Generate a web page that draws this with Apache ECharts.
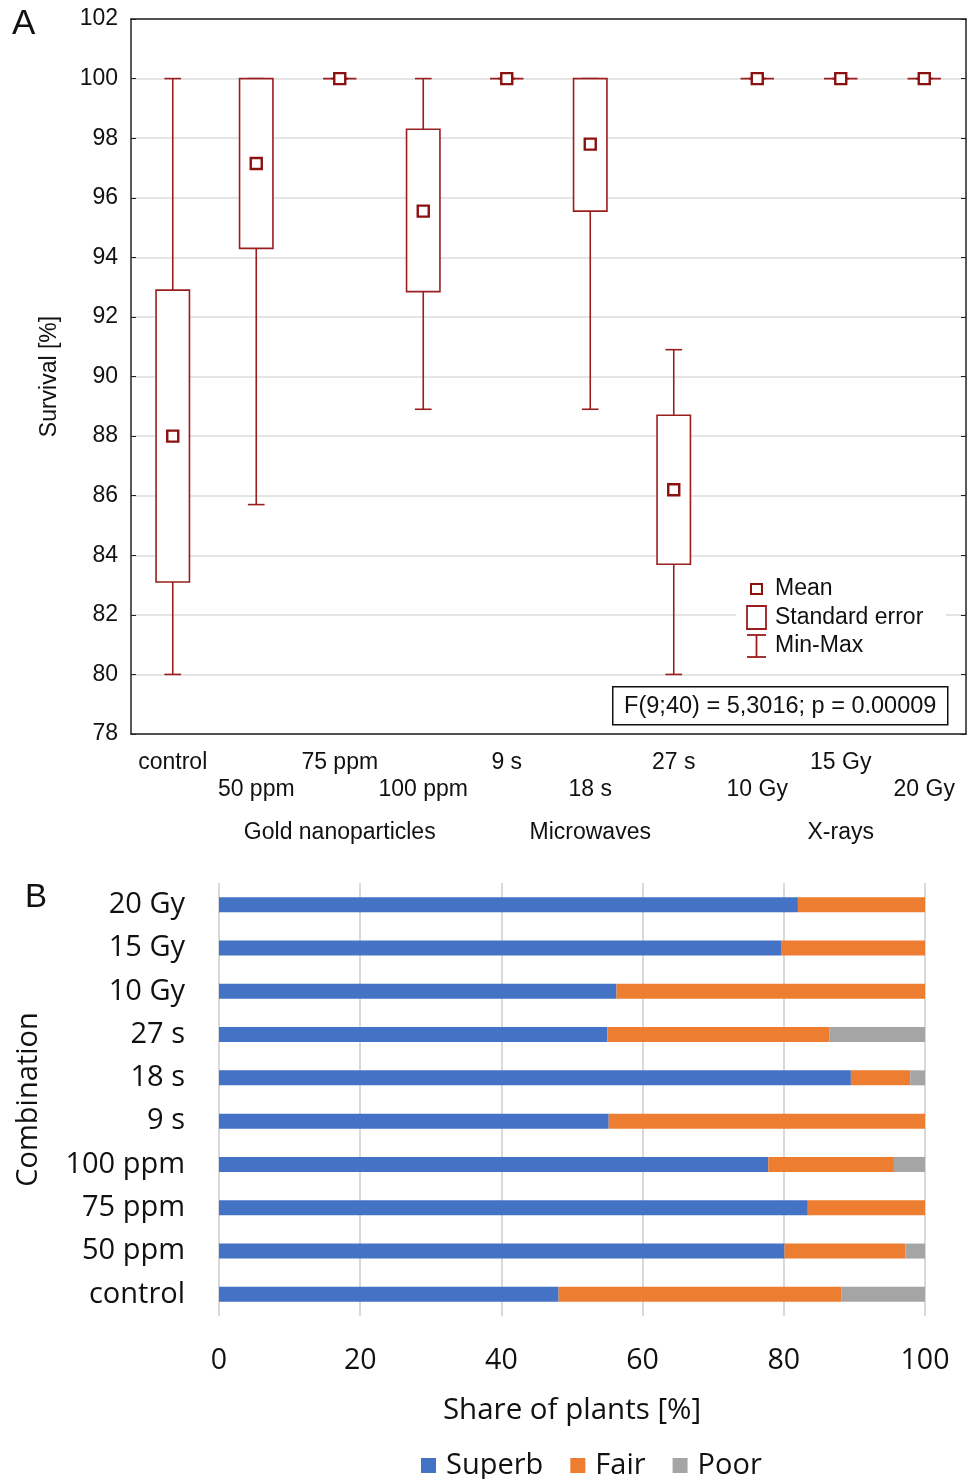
<!DOCTYPE html>
<html>
<head>
<meta charset="utf-8">
<script src="https://cdn.jsdelivr.net/npm/echarts@6/dist/echarts.min.js"></script>
<style>
html, body { margin: 0; padding: 0; background: #fff; }
#container { width: 972px; height: 1479px; }
</style>
</head>
<body>
<div id="container"></div>
<script>
// panel A - survival
var categories = ['control', '50 ppm', '75 ppm', '100 ppm', '9 s', '18 s', '27 s', '10 Gy', '15 Gy', '20 Gy'];
var groupLabels = ['', '', 'Gold nanoparticles', '', '', 'Microwaves', '', '', 'X-rays', ''];
var survivalMin = [80, 85.7, 100, 88.9, 100, 88.9, 80, 100, 100, 100];
var survivalMax = [100, 100, 100, 100, 100, 100, 90.9, 100, 100, 100];
var seLow = [83.1, 94.3, 100, 92.85, 100, 95.55, 83.7, 100, 100, 100];
var seHigh = [92.9, 100, 100, 98.3, 100, 100, 88.7, 100, 100, 100];
var survivalMean = [88.0, 97.15, 100, 95.55, 100, 97.8, 86.2, 100, 100, 100];

// panel B - share of plants
var combinations = ['control', '50 ppm', '75 ppm', '100 ppm', '9 s', '18 s', '27 s', '10 Gy', '15 Gy', '20 Gy'];
var superb = [48.1, 80.1, 83.4, 77.8, 55.2, 89.5, 55.0, 56.3, 79.7, 82.0];
var fair = [40.1, 17.1, 16.6, 17.8, 44.8, 8.4, 31.5, 43.7, 20.3, 18.0];
var poor = [11.8, 2.8, 0, 4.4, 0, 2.1, 13.5, 0, 0, 0];

var RED = '#9a1e1e';
var ARIAL = "'Liberation Sans', Arial, sans-serif";
var CALIBRI = "'Open Sans', Lato, sans-serif";

function boxData() {
	var data = [];
	categories.forEach(function (c, i) {
		data.push([i, survivalMin[i], seLow[i], survivalMean[i], seHigh[i], survivalMax[i]]);
	});
	return data;
}

function renderBox(params, api) {
	var x = api.value(0);
	var pMin = api.coord([x, api.value(1)]);
	var pLo = api.coord([x, api.value(2)]);
	var pMean = api.coord([x, api.value(3)]);
	var pHi = api.coord([x, api.value(4)]);
	var pMax = api.coord([x, api.value(5)]);
	var bw = api.size([1, 0])[0] * 0.4;
	var cap = bw / 2;
	var line = { stroke: RED, lineWidth: 1.6 };
	var cx = pMean[0];
	var children = [];
	if (pMax[1] < pHi[1]) {
		children.push({ type: 'line', shape: { x1: cx, y1: pMax[1], x2: cx, y2: pHi[1] }, style: line });
	}
	children.push({ type: 'line', shape: { x1: cx - cap / 2, y1: pMax[1], x2: cx + cap / 2, y2: pMax[1] }, style: line });
	if (pMin[1] > pLo[1]) {
		children.push({ type: 'line', shape: { x1: cx, y1: pLo[1], x2: cx, y2: pMin[1] }, style: line });
	}
	children.push({ type: 'line', shape: { x1: cx - cap / 2, y1: pMin[1], x2: cx + cap / 2, y2: pMin[1] }, style: line });
	if (pLo[1] - pHi[1] > 0.5) {
		children.push({ type: 'rect', shape: { x: cx - bw / 2, y: pHi[1], width: bw, height: pLo[1] - pHi[1] }, style: { fill: '#fff', stroke: RED, lineWidth: 1.6 } });
	} else {
		children.push({ type: 'line', shape: { x1: cx - bw / 2, y1: pHi[1], x2: cx + bw / 2, y2: pHi[1] }, style: line });
	}
	children.push({ type: 'rect', shape: { x: cx - 5.5, y: pMean[1] - 5.5, width: 11, height: 11 }, style: { fill: '#fff', stroke: '#8b1010', lineWidth: 2.4 } });
	return { type: 'group', children: children };
}

var dom = document.getElementById('container');
var chart = echarts.init(dom, null, { renderer: 'canvas' });

var option = {
	animation: false,
	backgroundColor: '#fff',
	grid: [
		{ left: 131, top: 19, width: 835, height: 715 },
		{ left: 219, top: 883, width: 706, height: 433 }
	],
	xAxis: [
		{
			type: 'category', gridIndex: 0, position: 'bottom', data: categories,
			axisLine: { lineStyle: { color: '#222', width: 1.5 } },
			axisTick: { inside: true, length: 5, alignWithLabel: true, lineStyle: { color: '#222' } },
			axisLabel: {
				interval: 0, margin: 15, fontSize: 23, lineHeight: 27, color: '#111', fontFamily: ARIAL,
				formatter: function (v, i) { return i % 2 ? '\n' + v : v; }
			}
		},
		{
			type: 'category', gridIndex: 0, position: 'top', data: categories,
			axisLine: { lineStyle: { color: '#222', width: 1.5 } },
			axisTick: { inside: true, length: 5, alignWithLabel: true, lineStyle: { color: '#222' } },
			axisLabel: { show: false }
		},
		{
			type: 'category', gridIndex: 0, position: 'bottom', offset: 79, data: categories,
			axisLine: { show: false }, axisTick: { show: false },
			axisLabel: {
				interval: 0, fontSize: 23, color: '#111', fontFamily: ARIAL,
				formatter: function (v, i) { return groupLabels[i]; }
			}
		},
		{
			type: 'value', gridIndex: 1, min: 0, max: 100, interval: 20,
			axisLine: { show: false }, axisTick: { show: false },
			splitLine: { lineStyle: { color: '#d9d9d9', width: 2 } },
			axisLabel: { margin: 30, fontSize: 28.5, color: '#111', fontFamily: CALIBRI },
			name: 'Share of plants [%]', nameLocation: 'middle', nameGap: 80,
			nameTextStyle: { fontSize: 29.5, color: '#111', fontFamily: CALIBRI }
		}
	],
	yAxis: [
		{
			type: 'value', gridIndex: 0, position: 'left', min: 78, max: 102, interval: 2,
			axisLine: { show: true, lineStyle: { color: '#222', width: 1.5 } },
			axisTick: { show: true, inside: true, length: 5, lineStyle: { color: '#222' } },
			splitLine: { lineStyle: { color: '#dcdcdc', width: 1.5 } },
			axisLabel: { margin: 13, fontSize: 23, color: '#111', fontFamily: ARIAL },
			name: 'Survival [%]', nameLocation: 'middle', nameGap: 70, nameRotate: 90,
			nameTextStyle: { fontSize: 23, color: '#111', fontFamily: ARIAL }
		},
		{
			type: 'value', gridIndex: 0, position: 'right', min: 78, max: 102, interval: 2,
			axisLine: { show: true, lineStyle: { color: '#222', width: 1.5 } },
			axisTick: { show: true, inside: true, length: 5, lineStyle: { color: '#222' } },
			splitLine: { show: false },
			axisLabel: { show: false }
		},
		{
			type: 'category', gridIndex: 1, data: combinations,
			axisLine: { show: false }, axisTick: { show: false },
			axisLabel: { margin: 34, fontSize: 29, color: '#111', fontFamily: CALIBRI },
			name: 'Combination', nameLocation: 'middle', nameGap: 176, nameRotate: 90,
			nameTextStyle: { fontSize: 29, color: '#111', fontFamily: CALIBRI }
		}
	],
	legend: {
		data: ['Superb', 'Fair', 'Poor'],
		left: 416, top: 1446, icon: 'rect', itemWidth: 15, itemHeight: 15, itemGap: 27,
		textStyle: { fontSize: 29, color: '#111', fontFamily: CALIBRI, padding: [0, 0, 0, 5] }
	},
	series: [
		{
			type: 'custom', xAxisIndex: 0, yAxisIndex: 0,
			renderItem: renderBox,
			encode: { x: 0, y: [1, 2, 3, 4, 5] },
			data: boxData(),
			z: 5
		},
		{ name: 'Superb', type: 'bar', xAxisIndex: 3, yAxisIndex: 2, stack: 'total', barWidth: 15, itemStyle: { color: '#4472C4' }, data: superb },
		{ name: 'Fair', type: 'bar', xAxisIndex: 3, yAxisIndex: 2, stack: 'total', barWidth: 15, itemStyle: { color: '#ED7D31' }, data: fair },
		{ name: 'Poor', type: 'bar', xAxisIndex: 3, yAxisIndex: 2, stack: 'total', barWidth: 15, itemStyle: { color: '#A5A5A5' }, data: poor }
	],
	graphic: [
		{ type: 'text', left: 12, top: 7, z: 100, style: { text: 'A', fontSize: 35, fontFamily: ARIAL, fill: '#111' } },
		{ type: 'text', left: 25, top: 881, z: 100, style: { text: 'B', fontSize: 33, fontFamily: ARIAL, fill: '#111' } },
		{
			type: 'group', left: 736, top: 574, z: 100,
			children: [
				{ type: 'rect', z: 100, shape: { x: 0, y: 0, width: 210, height: 90 }, style: { fill: '#fff' } },
				{ type: 'rect', z: 101, shape: { x: 15, y: 10, width: 11, height: 10 }, style: { fill: '#fff', stroke: '#8b1010', lineWidth: 2 } },
				{ type: 'rect', z: 101, shape: { x: 11, y: 32, width: 19, height: 23 }, style: { fill: '#fff', stroke: RED, lineWidth: 1.8 } },
				{ type: 'line', z: 101, shape: { x1: 11, y1: 61, x2: 30, y2: 61 }, style: { stroke: RED, lineWidth: 1.8 } },
				{ type: 'line', z: 101, shape: { x1: 20.5, y1: 61, x2: 20.5, y2: 83 }, style: { stroke: RED, lineWidth: 1.8 } },
				{ type: 'line', z: 101, shape: { x1: 11, y1: 83, x2: 30, y2: 83 }, style: { stroke: RED, lineWidth: 1.8 } },
				{ type: 'text', z: 101, x: 39, y: 15, style: { text: 'Mean', fontSize: 23, fontFamily: ARIAL, fill: '#111', verticalAlign: 'middle' } },
				{ type: 'text', z: 101, x: 39, y: 44, style: { text: 'Standard error', fontSize: 23, fontFamily: ARIAL, fill: '#111', verticalAlign: 'middle' } },
				{ type: 'text', z: 101, x: 39, y: 72, style: { text: 'Min-Max', fontSize: 23, fontFamily: ARIAL, fill: '#111', verticalAlign: 'middle' } }
			]
		},
		{
			type: 'group', left: 612, top: 686, z: 100,
			children: [
				{ type: 'rect', z: 100, shape: { x: 0, y: 0, width: 335, height: 38 }, style: { fill: '#fff', stroke: '#111', lineWidth: 1.5 } },
				{ type: 'text', z: 101, x: 167.5, y: 20, style: { text: 'F(9;40) = 5,3016; p = 0.00009', fontSize: 23.5, fontFamily: ARIAL, fill: '#111', align: 'center', verticalAlign: 'middle' } }
			]
		}
	]
};

chart.setOption(option, true);
</script>
</body>
</html>
